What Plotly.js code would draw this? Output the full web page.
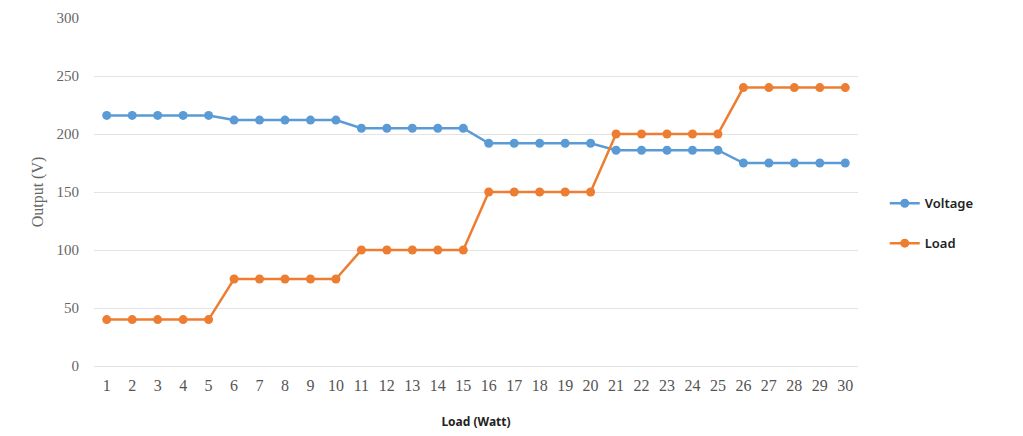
<!DOCTYPE html>
<html>
<head>
<meta charset="utf-8">
<script src="https://cdn.plot.ly/plotly-3.0.1.min.js"></script>
<style>html,body{margin:0;padding:0;background:#fff;}#chart{width:1023px;height:436px;}</style>
</head>
<body>
<div id="chart"></div>
<script>
const categories = ["1","2","3","4","5","6","7","8","9","10","11","12","13","14","15","16","17","18","19","20","21","22","23","24","25","26","27","28","29","30"];
const voltage = [216,216,216,216,216,212,212,212,212,212,205,205,205,205,205,192,192,192,192,192,186,186,186,186,186,175,175,175,175,175];
const load = [40,40,40,40,40,75,75,75,75,75,100,100,100,100,100,150,150,150,150,150,200,200,200,200,200,240,240,240,240,240];
const yTicks = [0,50,100,150,200,250,300];

const traces = [
  {x: categories, y: voltage, name: "Voltage", legendgroup: "v", type: "scatter", mode: "lines+markers",
   line: {color: "#5B9BD5", width: 2.5}, marker: {color: "#5B9BD5", size: 9}},
  {x: categories, y: load, name: "Load", legendgroup: "l", type: "scatter", mode: "lines+markers",
   line: {color: "#ED7D31", width: 2.5}, marker: {color: "#ED7D31", size: 9}}
];

const layout = {
  width: 1023, height: 436,
  margin: {l: 94, r: 165, t: 18, b: 70},
  paper_bgcolor: "#fff", plot_bgcolor: "#fff",
  showlegend: true,
  legend: {x: 1.035, y: 0.41, yanchor: "middle", xanchor: "left",
    font: {family: "Noto Sans", size: 13, color: "#222", weight: 600}, tracegroupgap: 20, itemwidth: 30},
  xaxis: {type: "category", range: [-0.5, 29.5], showgrid: false, zeroline: false,
    showline: false, ticks: "", tickfont: {family: "Liberation Serif", size: 16, color: "#555"},
    ticklabelstandoff: 8,
    title: {text: "<b>Load (Watt)</b>", font: {family: "Noto Sans", size: 12, color: "#222"}, standoff: 24}},
  yaxis: {range: [0, 300], tickvals: yTicks, showgrid: true, gridcolor: "#e3e3e3", gridwidth: 1,
    zeroline: true, zerolinecolor: "#e3e3e3", showline: false, ticks: "",
    tickfont: {family: "Liberation Serif", size: 15, color: "#666"}, ticklabelstandoff: 14,
    title: {text: "Output (V)", font: {family: "Liberation Serif", size: 16, color: "#666"}, standoff: 8}}
};

Plotly.newPlot("chart", traces, layout, {displayModeBar: false, staticPlot: true});
</script>
</body>
</html>
